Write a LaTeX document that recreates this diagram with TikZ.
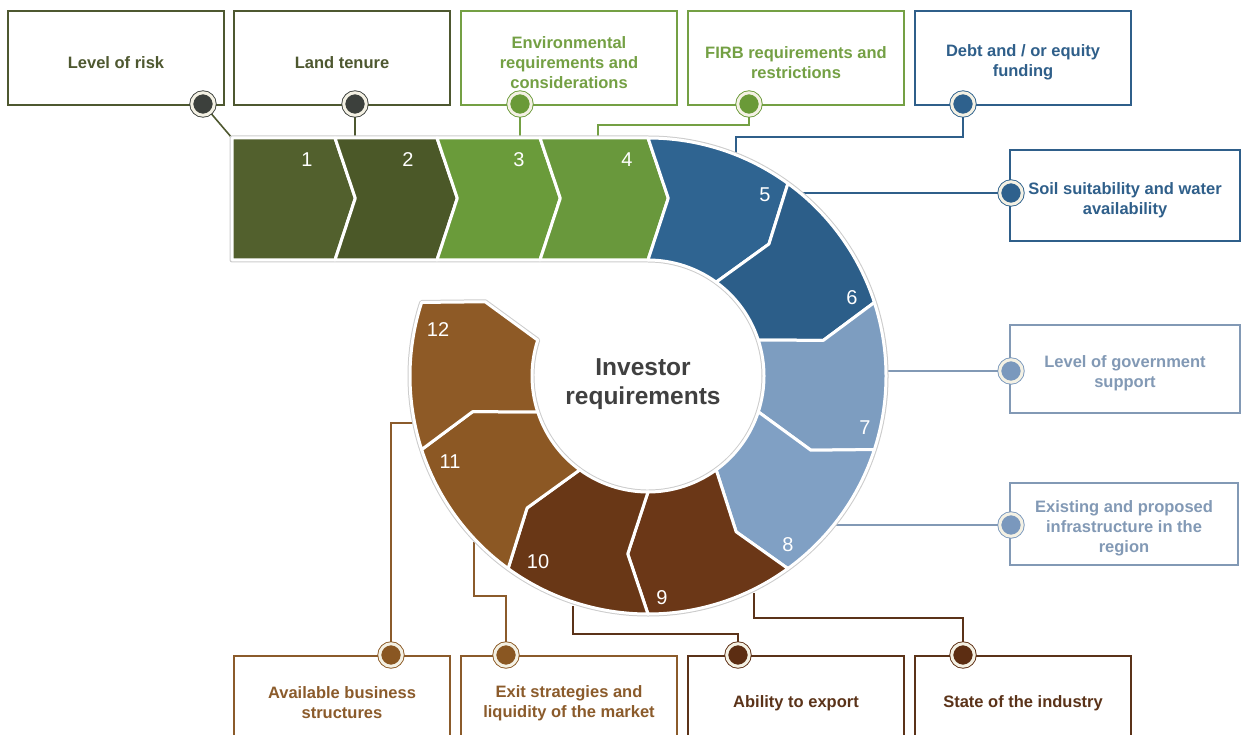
\documentclass[tikz,border=0pt]{standalone}
\usepackage{fontspec}
\setmainfont{Liberation Sans}
\usetikzlibrary{backgrounds}

\definecolor{olv}{HTML}{4E5830}
\definecolor{olvk}{HTML}{3C403C}
\definecolor{grn}{HTML}{74A044}
\definecolor{grnk}{HTML}{6A9A38}
\definecolor{blu}{HTML}{2F5F8A}
\definecolor{bluk}{HTML}{2E618D}
\definecolor{lbl}{HTML}{8299B5}
\definecolor{lblk}{HTML}{7A98BD}
\definecolor{brn}{HTML}{8B5B2B}
\definecolor{brnk}{HTML}{8A5722}
\definecolor{dbr}{HTML}{5B3319}
\definecolor{dbrk}{HTML}{5C2D12}
\definecolor{cream}{HTML}{F4F1E4}
\definecolor{txtgrey}{HTML}{404040}
\definecolor{sa}{HTML}{52602D}
\definecolor{sb}{HTML}{4B5828}
\definecolor{sc}{HTML}{6A9B3A}
\definecolor{sd}{HTML}{69983C}
\definecolor{se}{HTML}{2F6491}
\definecolor{sf}{HTML}{2C5E89}
\definecolor{sg}{HTML}{7D9DC0}
\definecolor{sh}{HTML}{80A0C4}
\definecolor{si}{HTML}{6B3717}
\definecolor{sj}{HTML}{693716}
\definecolor{sk}{HTML}{8C5824}
\definecolor{sl}{HTML}{8E5A26}

\newcommand\boxfont{\fontsize{16.5}{20}\selectfont\bfseries}
\newcommand\numfont{\fontsize{20}{24}\selectfont}
\newcommand\corefont{\fontsize{24.5}{29.5}\selectfont\bfseries}
\newcommand\lift{\rule{0pt}{20.5pt}}

\tikzset{
  reqbox/.style={draw=#1, text=#1, line width=1.6pt, fill=white, minimum width=216, minimum height=94, align=center, font=\boxfont, inner sep=2pt},
  knob/.style={circle, draw=#1, fill=#1, double=cream, double distance=3pt, line width=0.9pt, minimum size=22.5, inner sep=0pt},
  link/.style={draw=#1, line width=1.6pt},
  seg/.style={fill=#1, draw=white, line width=3pt, line join=round},
  num/.style={text=white, font=\numfont, inner sep=0pt}
}

\begin{document}
\begin{tikzpicture}[x=1pt, y=-1pt]
        \useasboundingbox (0,0) rectangle (1244,735);
        \clip (0,0) rectangle (1244,735);

        \begin{scope}[shift={(648,376)}]
            \draw[gray!40, line width=5pt, line join=round] (-416,-238) -- (0,-238) arc[start angle=-90, end angle=198, radius=238] -- (204.5:179) -- (198:116) arc[start angle=198, end angle=-90, radius=116] -- (-416,-116) -- cycle;
            \draw[seg=sa] (-416,-238) -- (-313,-238) -- (-292.7,-177.8) -- (-313,-116) -- (-416,-116) -- cycle;
            \draw[seg=sb] (-313,-238) -- (-211,-238) -- (-190.7,-177.8) -- (-211,-116) -- (-313,-116) -- (-292.7,-177.8) -- cycle;
            \draw[seg=sc] (-211,-238) -- (-108,-238) -- (-87.7,-177.8) -- (-108,-116) -- (-211,-116) -- (-190.7,-177.8) -- cycle;
            \draw[seg=sd] (-108,-238) -- (0,-238) -- (20.3,-177.8) -- (0,-116) -- (-108,-116) -- (-87.7,-177.8) -- cycle;
            \foreach \k/\c in {0/se, 1/sf, 2/sg, 3/sh, 4/si, 5/sj, 6/sk, 7/sl}{
                \pgfmathsetmacro\a{-90+36*\k}
                \pgfmathsetmacro\b{-54+36*\k}
                \draw[seg=\c] (\a:238) -- (\a+6.5:179) -- (\a:116) arc[start angle=\a, end angle=\b, radius=116] -- (\b+6.5:179) -- (\b:238) arc[start angle=\b, end angle=\a, radius=238] -- cycle;
            }
        \end{scope}

        \foreach \n/\p in {1/{(307,160)}, 2/{(408,160)}, 3/{(519,160)}, 4/{(627,160)}, 5/{(765,195)}, 6/{(852,298)}, 7/{(865,428)}, 8/{(788,545)}, 9/{(662,598)}, 10/{(538,562)}, 11/{(450,462)}, 12/{(438,330)}}{
            \node[num] (n\n) at \p {\n};
        }
        \node[font=\corefont, text=txtgrey, align=center] (core) at (643,384) {Investor\\requirements};

        \node[reqbox=olv] (risk) at (116,58) {\lift Level of risk};
        \node[reqbox=olv] (tenure) at (342,58) {\lift Land tenure};
        \node[reqbox=grn] (env) at (569,58) {\lift Environmental\\requirements and\\considerations};
        \node[reqbox=grn] (firb) at (796,58) {\lift FIRB requirements and\\restrictions};
        \node[reqbox=blu] (debt) at (1023,58) {\lift Debt and / or equity\\funding};
        \node[reqbox=blu, minimum width=230, minimum height=91] (soil) at (1125,195.5) {\lift Soil suitability and water\\availability};
        \node[reqbox=lbl, minimum width=230, minimum height=88] (gov) at (1125,369) {\lift Level of government\\support};
        \node[reqbox=lbl, minimum width=228, minimum height=82] (infra) at (1124,524) {\lift Existing and proposed\\infrastructure in the\\region};
        \node[reqbox=brn] (avail) at (342,703) {Available business\\structures};
        \node[reqbox=brn] (exit) at (569,703) {Exit strategies and\\liquidity of the market};
        \node[reqbox=dbr] (export) at (796,703) {Ability to export};
        \node[reqbox=dbr] (state) at (1023,703) {State of the industry};

        \node[knob=olvk] (kRisk) at (203,104) {};
        \node[knob=olvk] (kTenure) at (355,104) {};
        \node[knob=grnk] (kEnv) at (520,104) {};
        \node[knob=grnk] (kFirb) at (749,104) {};
        \node[knob=bluk] (kDebt) at (963,104) {};
        \node[knob=bluk] (kSoil) at (1011,193) {};
        \node[knob=lblk] (kGov) at (1011,371) {};
        \node[knob=lblk] (kInfra) at (1011,525) {};
        \node[knob=brnk] (kAvail) at (391,655) {};
        \node[knob=brnk] (kExit) at (506,655) {};
        \node[knob=dbrk] (kExport) at (738,655) {};
        \node[knob=dbrk] (kState) at (963,655) {};

        \coordinate (cRisk) at (232,138);
        \coordinate (cTenure) at (355,142);
        \coordinate (cEnv) at (520,142);
        \coordinate (cFirb) at (598,142);
        \coordinate (cDebt) at (736,158);
        \coordinate (cSoil) at (803,193);
        \coordinate (cGov) at (883,371);
        \coordinate (cInfra) at (831,525);
        \coordinate (cAvail) at (418,423);
        \coordinate (cExit) at (474,542);
        \coordinate (cExport) at (573,606);
        \coordinate (cState) at (754,593);

        \begin{scope}[on background layer]
            \draw[link=olv] (kRisk) -- (cRisk);
            \draw[link=olv] (kTenure) -- (cTenure);
            \draw[link=grn] (kEnv) -- (cEnv);
            \draw[link=grn] (kFirb) -- ++(0,21) -| (cFirb);
            \draw[link=blu] (kDebt) -- ++(0,33) -| (cDebt);
            \draw[link=blu] (kSoil) -- (cSoil);
            \draw[link=lbl] (kGov) -- (cGov);
            \draw[link=lbl] (kInfra) -- (cInfra);
            \draw[link=brn] (kAvail) |- (cAvail);
            \draw[link=brn] (kExit) -- ++(0,-59) -| (cExit);
            \draw[link=dbr] (kExport) -- ++(0,-21) -| (cExport);
            \draw[link=dbr] (kState) -- ++(0,-37) -| (cState);
        \end{scope}
\end{tikzpicture}
\end{document}
